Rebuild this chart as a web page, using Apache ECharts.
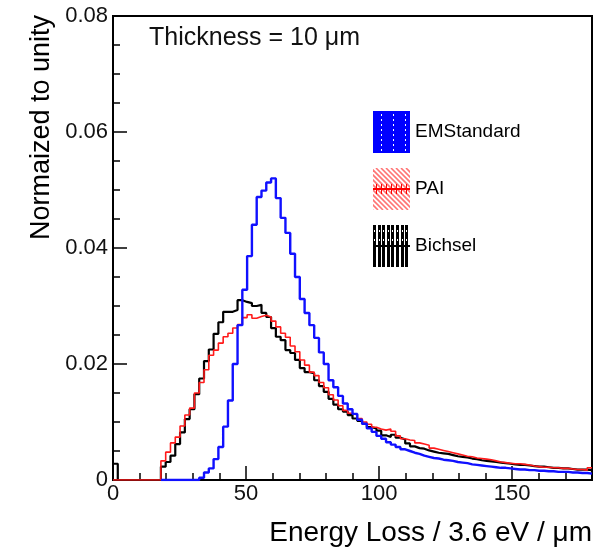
<!DOCTYPE html>
<html>
<head>
<meta charset="utf-8">
<script src="https://cdn.jsdelivr.net/npm/echarts@6/dist/echarts.min.js"></script>
<style>html,body{margin:0;padding:0;background:#fff;}#c{width:616px;height:551px;}</style>
</head>
<body>
<div id="c"></div>
<script>
// Histogram definition: 100 bins over 0..180
const binWidth = 1.8;
const xMin = 0, xMax = 180;
const xTickLabels = [0, 50, 100, 150];
const yTickLabels = [0, 0.02, 0.04, 0.06, 0.08];
const seriesNames = ['EMStandard', 'PAI', 'Bichsel'];

// EMStandard (blue) bin contents; null = not drawn
const emStandard = [
  null,null,null,null,null,null,null,null,null,null,
  0,0,0,0,0,0,0,0,0.0004,0.0013,
  0.0020,0.0036,0.0057,0.0092,0.0137,0.0200,0.0267,0.0328,0.0386,0.0440,
  0.0488,0.0499,0.0513,0.0520,0.0486,0.0452,0.0426,0.0390,0.0350,0.0312,
  0.0288,0.0267,0.0245,0.0220,0.0200,0.0172,0.0160,0.0145,0.0132,0.0122,
  0.0114,0.0104,0.0097,0.0089,0.0083,0.0076,0.0071,0.0065,0.0061,0.0057,
  0.0053,0.0050,0.0047,0.0045,0.0042,0.0040,0.0038,0.0037,0.0035,0.0034,
  0.0033,0.0031,0.0030,0.0029,0.0027,0.0026,0.0025,0.0024,0.0023,0.0022,
  0.0021,0.0021,0.0020,0.0019,0.0018,0.0018,0.0017,0.0017,0.0016,0.0016,
  0.0015,0.0015,0.0014,0.0014,0.0014,0.0013,0.0013,0.0012,0.0012,0.0011
];
// PAI (red)
const pai = [
  0,0,0,0,0,0,0,0,0,0,
  0.0033,0.0048,0.0064,0.0074,0.0093,0.0112,0.0124,0.0150,0.0168,0.0190,
  0.0215,0.0224,0.0236,0.0247,0.0253,0.0262,0.0268,0.0280,0.0285,0.0279,
  0.0282,0.0284,0.0281,0.0274,0.0264,0.0253,0.0246,0.0231,0.0221,0.0207,
  0.0198,0.0186,0.0180,0.0168,0.0159,0.0147,0.0138,0.0128,0.0120,0.0115,
  0.0112,0.0106,0.0100,0.0096,0.0091,0.0088,0.0086,0.0088,0.0084,0.0076,
  0.0071,0.0069,0.0068,0.0064,0.0062,0.0060,0.0055,0.0053,0.0051,0.0049,
  0.0047,0.0045,0.0043,0.0041,0.0040,0.0038,0.0037,0.0036,0.0035,0.0033,
  0.0031,0.0030,0.0029,0.0028,0.0028,0.0027,0.0026,0.0024,0.0023,0.0022,
  0.0022,0.0021,0.0021,0.0020,0.0020,0.0019,0.0018,0.0018,0.0017,0.0021
];
// Bichsel (black)
const bichsel = [
  0.0028,0,0,0,0,0,0,0,0,0,
  0.0023,0.0031,0.0042,0.0062,0.0082,0.0105,0.0122,0.0148,0.0175,0.0205,
  0.0225,0.0252,0.0272,0.0290,0.0290,0.0293,0.0310,0.0307,0.0305,0.0300,
  0.0302,0.0288,0.0281,0.0262,0.0247,0.0241,0.0224,0.0219,0.0207,0.0193,
  0.0186,0.0184,0.0172,0.0162,0.0152,0.0140,0.0130,0.0122,0.0118,0.0112,
  0.0106,0.0102,0.0097,0.0091,0.0089,0.0085,0.0077,0.0074,0.0078,0.0073,
  0.0070,0.0063,0.0058,0.0055,0.0054,0.0051,0.0049,0.0047,0.0046,0.0045,
  0.0043,0.0041,0.0040,0.0039,0.0037,0.0036,0.0034,0.0033,0.0032,0.0031,
  0.0030,0.0029,0.0028,0.0027,0.0026,0.0026,0.0025,0.0024,0.0023,0.0023,
  0.0022,0.0021,0.0021,0.0020,0.0020,0.0019,0.0018,0.0018,0.0018,0.0017
];

function histPoints(vals) {
  const pts = vals.map((v, i) => [i * binWidth, v]);
  pts.push([vals.length * binWidth, vals[vals.length - 1]]);
  return pts;
}

function makeIcon(draw) {
  const c = document.createElement('canvas');
  c.width = 37; c.height = 42;
  const g = c.getContext('2d');
  draw(g);
  return 'image://' + c.toDataURL();
}
const iconEM = makeIcon(g => {
  g.fillStyle = '#0000ff'; g.fillRect(0, 0, 37, 42);
  g.fillStyle = '#ffffff';
  [8, 20, 32].forEach(x => { for (let y = 3; y < 40; y += 5) g.fillRect(x, y, 1, 2); });
});
const iconPAI = makeIcon(g => {
  g.fillStyle = '#fff'; g.fillRect(0, 0, 37, 42);
  g.strokeStyle = 'rgba(255,70,70,0.75)'; g.lineWidth = 1.6;
  for (let x = -42; x < 40; x += 5) { g.beginPath(); g.moveTo(x, 0); g.lineTo(x + 42, 42); g.stroke(); }
  g.strokeStyle = '#ff0000'; g.lineWidth = 2;
  g.beginPath(); g.moveTo(0, 21); g.lineTo(37, 21); g.stroke();
  g.lineWidth = 1;
  for (let x = 3; x < 37; x += 5) { g.beginPath(); g.moveTo(x + 0.5, 16); g.lineTo(x + 0.5, 26); g.stroke(); }
});
const iconBI = makeIcon(g => {
  g.fillStyle = '#fff'; g.fillRect(0, 0, 37, 42);
  g.fillStyle = '#000';
  for (let x = 0; x < 37; x += 4.6) g.fillRect(Math.round(x), 0, 3, 42);
  g.fillStyle = '#fff';
  for (let x = 0; x < 37; x += 4.6) { g.fillRect(Math.round(x) + 1, 5, 1, 2); g.fillRect(Math.round(x) + 1, 14, 1, 2); }
  g.fillStyle = '#000'; g.fillRect(0, 20, 37, 2);
});

const font = 'Liberation Sans, Arial, Helvetica, sans-serif';
const chart = echarts.init(document.getElementById('c'), null, { renderer: 'canvas' });
chart.setOption({
  animation: false,
  backgroundColor: '#fff',
  textStyle: { fontFamily: font },
  title: {
    text: 'Thickness = 10 μm', left: 144, top: 21,
    textStyle: { fontFamily: font, fontSize: 25, fontWeight: 'normal', color: '#111' }
  },
  grid: { left: 113, right: 24, top: 16, bottom: 71, show: true, borderColor: '#000', borderWidth: 2, containLabel: false },
  legend: {
    orient: 'vertical', left: 373, top: 111, itemWidth: 37, itemHeight: 42, itemGap: 15, padding: 0,
    textStyle: { fontFamily: font, fontSize: 19, color: '#000' },
    data: [
      { name: seriesNames[0], icon: iconEM },
      { name: seriesNames[1], icon: iconPAI },
      { name: seriesNames[2], icon: iconBI }
    ]
  },
  xAxis: [
    {
      type: 'value', min: xMin, max: xMax, interval: xTickLabels[1] - xTickLabels[0],
      axisLine: { lineStyle: { color: '#000', width: 2 } },
      axisTick: { inside: true, length: 14, lineStyle: { color: '#000', width: 1.5 } },
      axisLabel: { fontSize: 22, color: '#111', margin: 3, showMaxLabel: false, fontFamily: font },
      splitLine: { show: false },
      name: 'Energy Loss / 3.6 eV / μm', nameLocation: 'end', nameGap: 0,
      nameTextStyle: { fontFamily: font, fontSize: 28, color: '#000', align: 'right', verticalAlign: 'top', padding: [39, 0, 0, 0] }
    },
    {
      type: 'value', min: xMin, max: xMax, interval: 10, position: 'bottom', offset: 0,
      axisLine: { show: false },
      axisTick: { inside: true, length: 7, lineStyle: { color: '#000', width: 1.5 } },
      axisLabel: { show: false }, splitLine: { show: false }
    }
  ],
  yAxis: {
    type: 'value', min: yTickLabels[0], max: yTickLabels[yTickLabels.length - 1], interval: yTickLabels[1] - yTickLabels[0],
    axisLine: { lineStyle: { color: '#000', width: 2 } },
    axisTick: { inside: true, length: 14, lineStyle: { color: '#000', width: 1.5 } },
    minorTick: { show: true, splitNumber: 4, length: 7, lineStyle: { color: '#000', width: 1.5 } },
    axisLabel: { fontSize: 22, color: '#111', margin: 5, fontFamily: font, formatter: v => v === 0 ? '0' : v.toFixed(2) },
    splitLine: { show: false }
  },
  graphic: [{
    type: 'text', left: 28, top: 15, rotation: Math.PI / 2,
    style: { text: 'Normaized to unity', font: '27px ' + font, fill: '#000' }
  }],
  series: [
    { name: seriesNames[2], type: 'line', step: 'end', data: histPoints(bichsel), showSymbol: false, color: '#000',
      lineStyle: { color: '#000', width: 2.2 }, z: 2 },
    { name: seriesNames[1], type: 'line', step: 'end', data: histPoints(pai), showSymbol: false, color: '#ff1a1a',
      lineStyle: { color: '#ff1a1a', width: 1.6 }, z: 3 },
    { name: seriesNames[0], type: 'line', step: 'end', data: histPoints(emStandard), showSymbol: false, color: '#0000ff',
      lineStyle: { color: '#1010ff', width: 2.4 }, z: 4 }
  ]
});
</script>
</body>
</html>
